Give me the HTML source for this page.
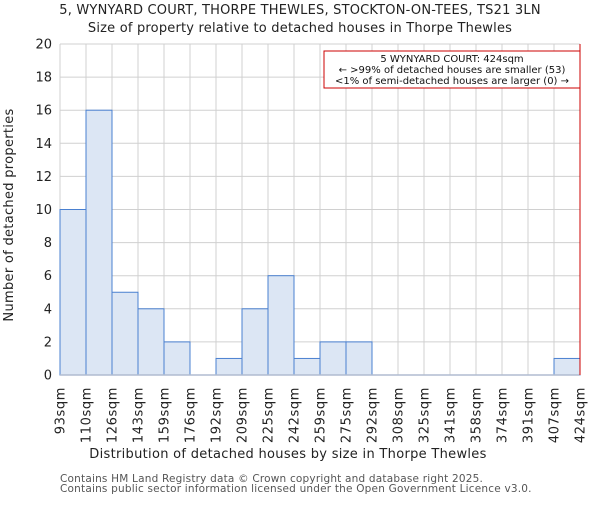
<!DOCTYPE html>
<html><head><meta charset="utf-8"><style>
body{margin:0;background:#fff;}
svg text{font-family:"DejaVu Sans","Liberation Sans",sans-serif;}
</style></head><body>
<svg id="chart" width="600" height="500" xmlns="http://www.w3.org/2000/svg">
<text x="300" y="14" text-anchor="middle" font-size="13" letter-spacing="0.2" fill="#222">5, WYNYARD COURT, THORPE THEWLES, STOCKTON-ON-TEES, TS21 3LN</text>
<text x="300" y="32" text-anchor="middle" font-size="13" letter-spacing="0.2" fill="#222">Size of property relative to detached houses in Thorpe Thewles</text>
<g id="grid"></g>
<g id="bars"></g>
<g id="axes"></g>
<text x="288" y="458" text-anchor="middle" font-size="13" letter-spacing="0.3" fill="#222">Distribution of detached houses by size in Thorpe Thewles</text>
<text transform="translate(13,215) rotate(-90)" text-anchor="middle" font-size="13" letter-spacing="0.3" fill="#222">Number of detached properties</text>
<text x="60" y="482" font-size="10.5" letter-spacing="0.2" fill="#555">Contains HM Land Registry data © Crown copyright and database right 2025.</text>
<text x="60" y="492" font-size="10.5" letter-spacing="0.2" fill="#555">Contains public sector information licensed under the Open Government Licence v3.0.</text>
<g>
<rect x="324" y="51" width="256" height="37" fill="#fff" stroke="#cc0000" stroke-width="1"/>
<text x="452" y="62" text-anchor="middle" font-size="10" fill="#111">5 WYNYARD COURT: 424sqm</text>
<text x="452" y="73" text-anchor="middle" font-size="10" fill="#111">← &gt;99% of detached houses are smaller (53)</text>
<text x="452" y="84" text-anchor="middle" font-size="10" fill="#111">&lt;1% of semi-detached houses are larger (0) →</text>
</g>
</svg>
<script>
const binLabels=["93sqm","110sqm","126sqm","143sqm","159sqm","176sqm","192sqm","209sqm","225sqm","242sqm","259sqm","275sqm","292sqm","308sqm","325sqm","341sqm","358sqm","374sqm","391sqm","407sqm","424sqm"];
const counts=[10,16,5,4,2,0,1,4,6,1,2,2,0,0,0,0,0,0,0,1];
const yTicks=[0,2,4,6,8,10,12,14,16,18,20];
const propertyIndex=20;
const X0=60,X1=580,Y0=375,Y1=44,YMAX=20;
const nb=counts.length;
const xs=i=>X0+(X1-X0)*i/nb;
const ys=v=>Y0-(Y0-Y1)*v/YMAX;
const NS="http://www.w3.org/2000/svg";
function mk(tag,parent,attrs){const e=document.createElementNS(NS,tag);for(const k in attrs)e.setAttribute(k,attrs[k]);parent.appendChild(e);return e;}
const grid=document.getElementById('grid'),bars=document.getElementById('bars'),axes=document.getElementById('axes');
for(const t of yTicks){
  const l=mk('line',grid,{x1:X0,x2:X1,y1:ys(t),y2:ys(t),stroke:'#d0d0d0','stroke-width':1});
  
  
  const tx=mk('text',axes,{x:X0-8,y:ys(t)+4.5,'text-anchor':'end','font-size':13,fill:'#222'});
  tx.textContent=t;
  
  
}
for(let i=0;i<=nb;i++){
  const l=mk('line',grid,{x1:xs(i),x2:xs(i),y1:Y1,y2:Y0,stroke:'#d0d0d0','stroke-width':1});
  
  
  const x=xs(i)+4.5;
  const tx=mk('text',axes,{transform:`translate(${x},387) rotate(-90)`,'text-anchor':'end','font-size':13,'letter-spacing':0.6,fill:'#222'});
  tx.textContent=binLabels[i];
  
  
}
counts.forEach((c,i)=>{
  if(c<=0)return;
  const r=mk('rect',bars,{x:xs(i),y:ys(c),width:xs(i+1)-xs(i),height:Y0-ys(c),fill:'#dce6f4',stroke:'#4a80d0','stroke-width':1});
  
  
});
const base=mk('line',axes,{x1:X0,x2:X1,y1:Y0,y2:Y0,stroke:'#b0bcd0','stroke-width':1.5});


const pl=mk('line',axes,{x1:xs(propertyIndex),x2:xs(propertyIndex),y1:Y1,y2:Y0,stroke:'#cc0000','stroke-width':1});


</script>
</body></html>
